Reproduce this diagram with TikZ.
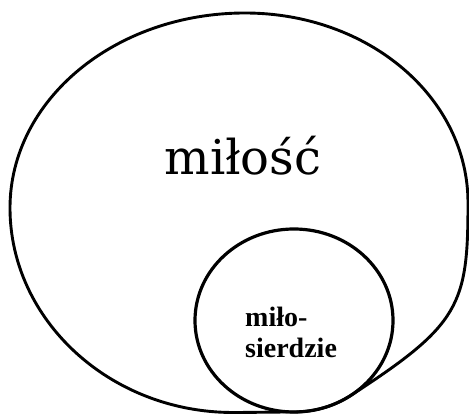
\documentclass[tikz,border=0pt]{standalone}
\usepackage{fontspec}
\usetikzlibrary{calc}
\setmainfont{Liberation Serif}
\newfontfamily\bigserif{DejaVu Serif}
\begin{document}
\begin{tikzpicture}[x=1pt,y=1pt,
  outline/.style={draw=black,line width=2.9pt,line join=round},
  inner/.style={draw=black,line width=3.2pt},
  bigtext/.style={inner sep=0pt,anchor=base,font=\bigserif\fontsize{48}{50}\selectfont},
  smalltext/.style={inner sep=0pt,anchor=base west,font=\fontsize{28}{31}\selectfont\bfseries}]
\useasboundingbox (0,0) rectangle (469,415);
% small circle
\coordinate (sc) at (294,94.5);
\draw[inner] (sc) ellipse [x radius=99, y radius=91.5];
% big outline, sharing the lower-right arc of the small circle
\coordinate (T) at (245,402);
\coordinate (L) at (10,207);
\coordinate (R) at (468,212);
\coordinate (B) at (233,2.5);
\coordinate (P) at ($(sc)+(-55:99 and 91.5)$);
\draw[outline] (T) .. controls (368,402) and (468,318) .. (R)
  .. controls (468,110) and ($(P)+(109,70.6)$) .. (P)
  arc[start angle=-55, end angle=-90, x radius=99, y radius=91.5]
  .. controls (270,3) and (250,2.5) .. (B)
  .. controls (110,2.5) and (10,95) .. (L)
  .. controls (10,315) and (115,402) .. (T) -- cycle;
\node[bigtext] (milosc) at (243,240) {miłość};
\node[smalltext] (miloA) at (245,88) {miło-};
\node[smalltext] (miloB) at (245,57) {sierdzie};
\end{tikzpicture}
\end{document}
